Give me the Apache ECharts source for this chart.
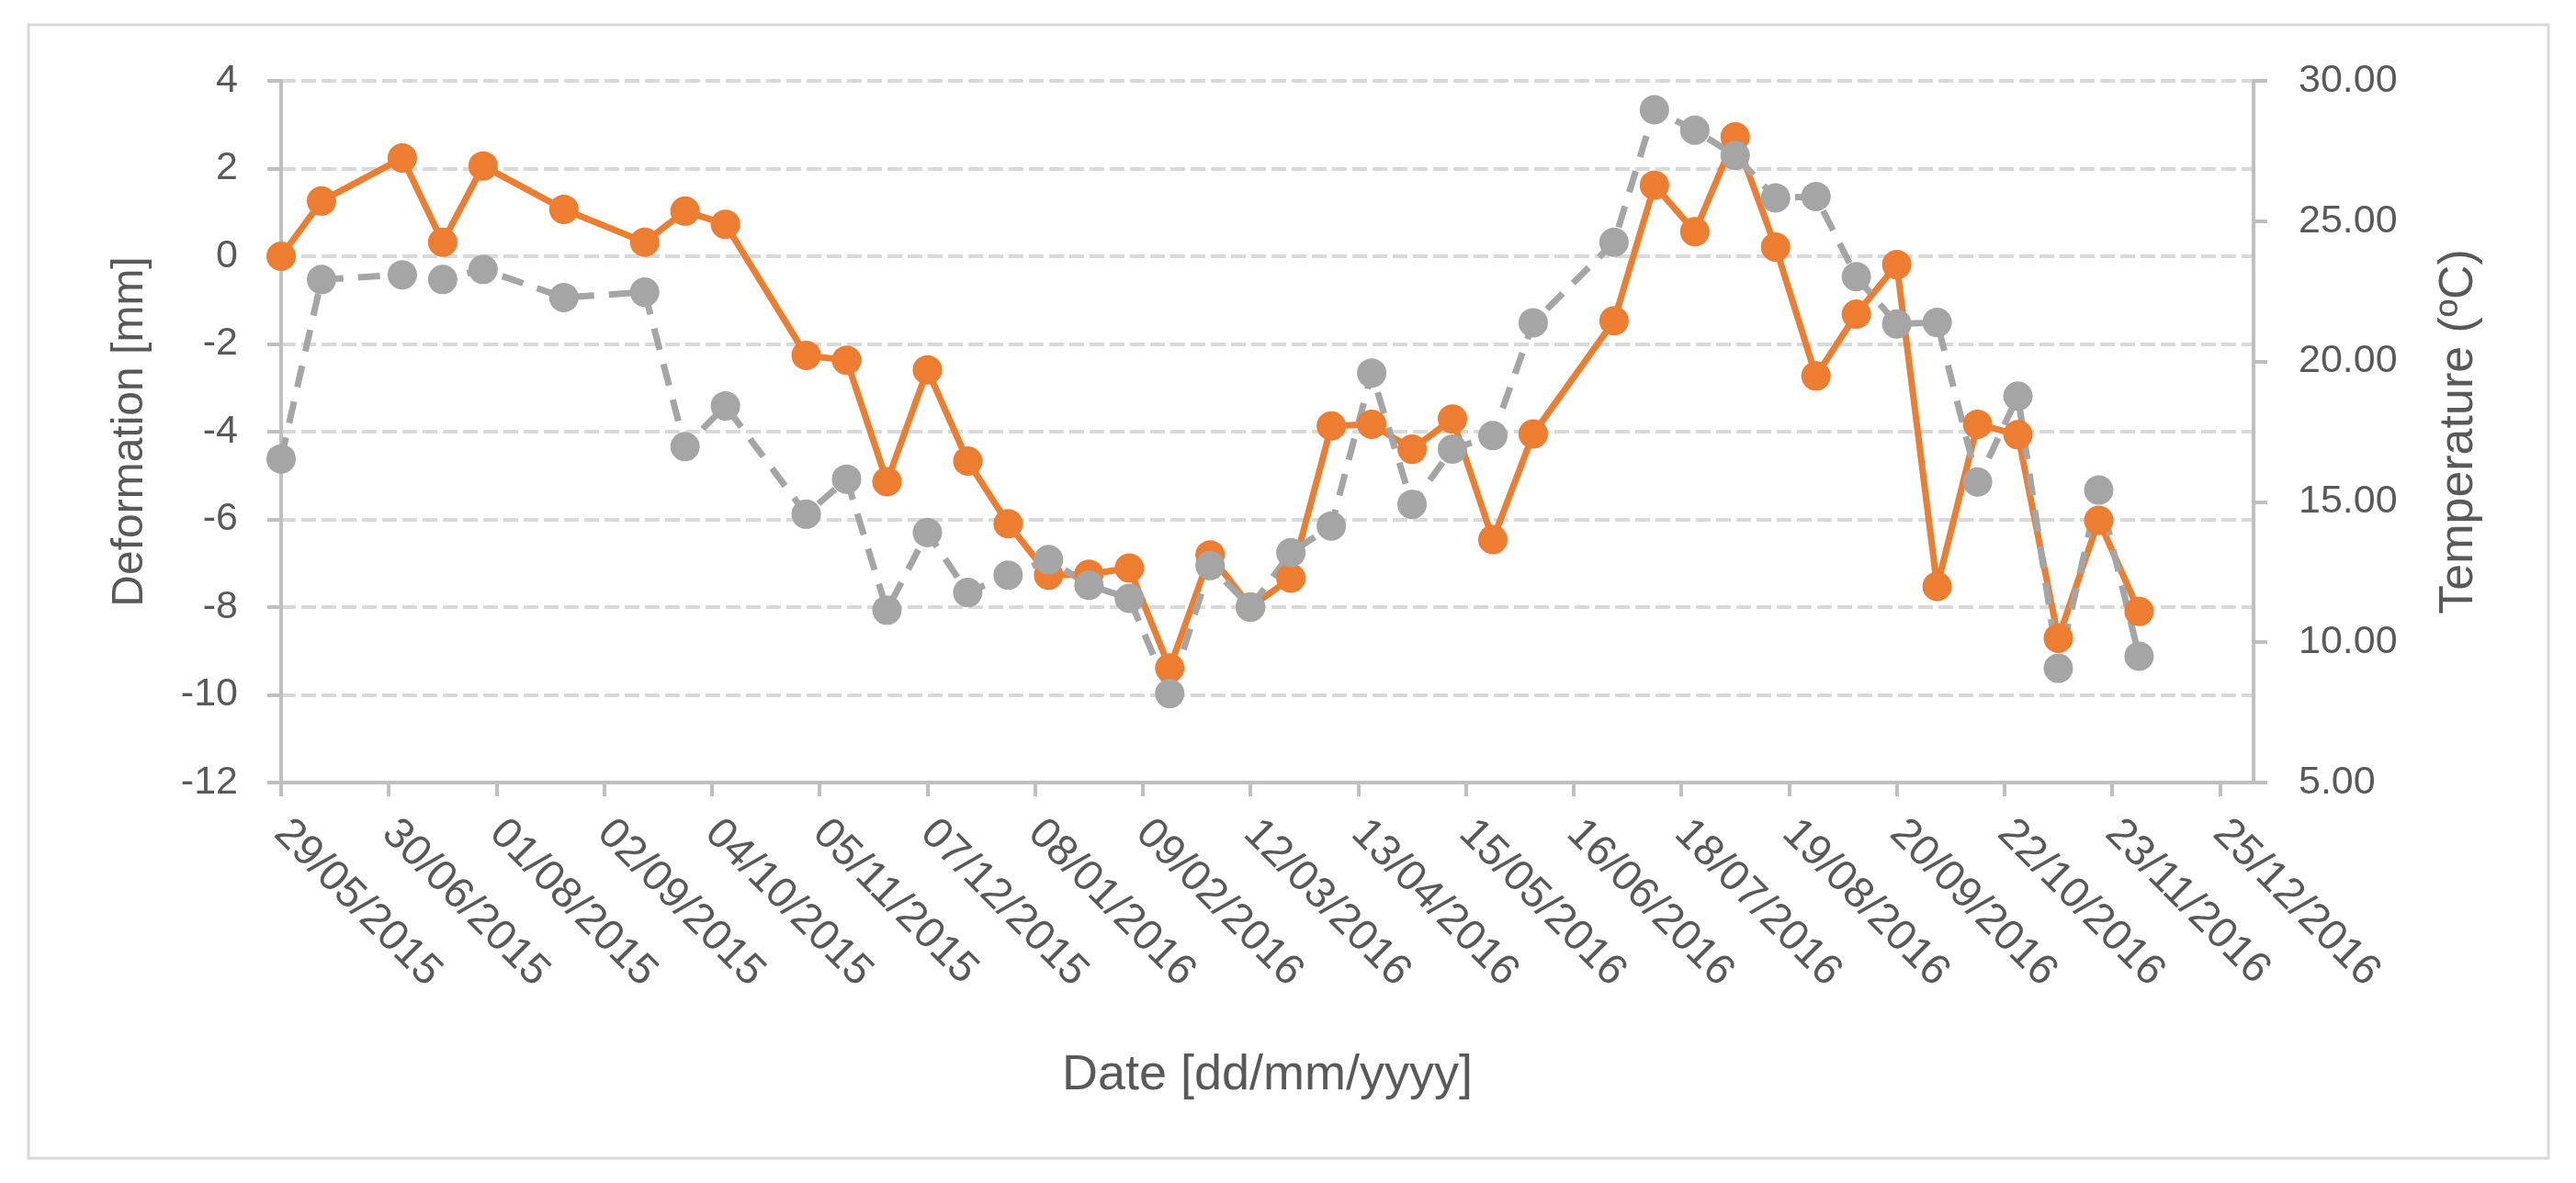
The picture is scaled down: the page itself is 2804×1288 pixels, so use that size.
<!DOCTYPE html>
<html>
<head>
<meta charset="utf-8">
<script src="https://cdn.jsdelivr.net/npm/echarts@6/dist/echarts.min.js"></script>
<style>
html,body{margin:0;padding:0;background:#ffffff;}
#chart{width:2804px;height:1288px;}
</style>
</head>
<body>
<div id="chart"></div>
<script>
// ---- data ----
const DATES = [
  '29/05/2015','10/06/2015','04/07/2015','16/07/2015','28/07/2015','21/08/2015','14/09/2015','26/09/2015',
  '08/10/2015','01/11/2015','13/11/2015','25/11/2015','07/12/2015','19/12/2015','31/12/2015','12/01/2016',
  '24/01/2016','05/02/2016','17/02/2016','29/02/2016','12/03/2016','24/03/2016','05/04/2016','17/04/2016',
  '29/04/2016','11/05/2016','23/05/2016','04/06/2016','28/06/2016','10/07/2016','22/07/2016','03/08/2016',
  '15/08/2016','27/08/2016','08/09/2016','20/09/2016','02/10/2016','14/10/2016','26/10/2016','07/11/2016',
  '19/11/2016','01/12/2016'
];
const DEFORMATION_MM = [
  0.00, 1.26, 2.24, 0.32, 2.06, 1.07, 0.32, 1.03,
  0.73, -2.26, -2.37, -5.14, -2.59, -4.67, -6.10, -7.27,
  -7.25, -7.11, -9.39, -6.81, -8.00, -7.34, -3.87, -3.83,
  -4.40, -3.71, -6.46, -4.05, -1.47, 1.62, 0.56, 2.72,
  0.21, -2.73, -1.32, -0.19, -7.53, -3.83, -4.07, -8.71,
  -6.02, -8.10
];
const TEMPERATURE_C = [
  16.53, 22.92, 23.09, 22.92, 23.28, 22.28, 22.47, 16.97,
  18.42, 14.56, 15.81, 11.14, 13.91, 11.77, 12.39, 12.94,
  12.03, 11.56, 8.17, 12.73, 11.25, 13.19, 14.14, 19.59,
  14.91, 16.88, 17.36, 21.38, 24.25, 28.97, 28.24, 27.34,
  25.83, 25.88, 23.02, 21.34, 21.39, 15.71, 18.77, 9.07,
  15.42, 9.50
];
const X_TICK_LABELS = [
  '29/05/2015','30/06/2015','01/08/2015','02/09/2015','04/10/2015','05/11/2015','07/12/2015',
  '08/01/2016','09/02/2016','12/03/2016','13/04/2016','15/05/2016','16/06/2016','18/07/2016',
  '19/08/2016','20/09/2016','22/10/2016','23/11/2016','25/12/2016'
];
const X_AXIS_END = '04/01/2017';
const Y_LEFT_RANGE = [-12, 4, 2];
const Y_RIGHT_RANGE = [5, 30, 5];

// ---- helpers ----
function dayNumber(s) {
  const [d, m, y] = s.split('/').map(Number);
  const [bd, bm, by] = X_TICK_LABELS[0].split('/').map(Number);
  return Math.round((Date.UTC(y, m - 1, d) - Date.UTC(by, bm - 1, bd)) / 86400000);
}
const TICK_DAYS = X_TICK_LABELS.map(dayNumber);
const FONT = "'Liberation Sans', Arial, sans-serif";
const TXT = '#595959';
const AXIS = '#BFBFBF';

const chart = echarts.init(document.getElementById('chart'), null, {renderer: 'canvas'});
chart.setOption({
  animation: false,
  backgroundColor: '#ffffff',
  textStyle: {fontFamily: FONT},
  graphic: [{
    type: 'rect', silent: true, z: -10,
    shape: {x: 31, y: 27, width: 2743, height: 1234},
    style: {fill: null, stroke: '#D9D9D9', lineWidth: 3}
  }],
  grid: {left: 306, right: 351, top: 88, bottom: 436, containLabel: false},
  xAxis: {
    type: 'value', min: 0, max: dayNumber(X_AXIS_END), interval: 32,
    name: 'Date [dd/mm/yyyy]', nameLocation: 'middle', nameGap: 292,
    nameTextStyle: {fontSize: 54, color: TXT, fontFamily: FONT},
    axisLine: {show: true, onZero: false, lineStyle: {color: AXIS, width: 4}},
    axisTick: {show: true, length: 15, customValues: TICK_DAYS, lineStyle: {color: AXIS, width: 4}},
    axisLabel: {
      rotate: -45, margin: 48, fontSize: 47, color: TXT, fontFamily: FONT,
      customValues: TICK_DAYS,
      formatter: v => { const i = TICK_DAYS.indexOf(Math.round(v)); return i >= 0 ? X_TICK_LABELS[i] : ''; }
    },
    splitLine: {show: false}
  },
  yAxis: [{
    type: 'value', position: 'left', min: Y_LEFT_RANGE[0], max: Y_LEFT_RANGE[1], interval: Y_LEFT_RANGE[2],
    name: 'Deformation [mm]', nameLocation: 'middle', nameRotate: 90, nameGap: 140,
    nameTextStyle: {fontSize: 48, color: TXT, fontFamily: FONT},
    axisLine: {show: true, onZero: false, lineStyle: {color: AXIS, width: 4}},
    axisTick: {show: true, length: 15, lineStyle: {color: AXIS, width: 4}},
    axisLabel: {margin: 47, fontSize: 43, color: TXT, fontFamily: FONT},
    splitLine: {show: true, lineStyle: {color: '#D9D9D9', width: 4, type: [16, 6]}}
  }, {
    type: 'value', position: 'right', min: Y_RIGHT_RANGE[0], max: Y_RIGHT_RANGE[1], interval: Y_RIGHT_RANGE[2],
    name: 'Temperature (ºC)', nameLocation: 'middle', nameRotate: 90, nameGap: 198,
    nameTextStyle: {fontSize: 52, color: TXT, fontFamily: FONT},
    axisLine: {show: true, onZero: false, lineStyle: {color: AXIS, width: 4}},
    axisTick: {show: true, length: 15, lineStyle: {color: AXIS, width: 4}},
    axisLabel: {margin: 49, fontSize: 43, color: TXT, fontFamily: FONT, formatter: v => v.toFixed(2)},
    splitLine: {show: false}
  }],
  series: [{
    name: 'Deformation', type: 'line', xAxisIndex: 0, yAxisIndex: 0,
    data: DATES.map((d, i) => [dayNumber(d), DEFORMATION_MM[i]]),
    symbol: 'circle', symbolSize: 32, clip: false,
    lineStyle: {color: '#ED7D31', width: 7},
    itemStyle: {color: '#ED7D31'}
  }, {
    name: 'Temperature', type: 'line', xAxisIndex: 0, yAxisIndex: 1,
    data: DATES.map((d, i) => [dayNumber(d), TEMPERATURE_C[i]]),
    symbol: 'circle', symbolSize: 32, clip: false,
    lineStyle: {color: '#A5A5A5', width: 7, type: [24, 16]},
    itemStyle: {color: '#A5A5A5'}
  }]
});
</script>
</body>
</html>
